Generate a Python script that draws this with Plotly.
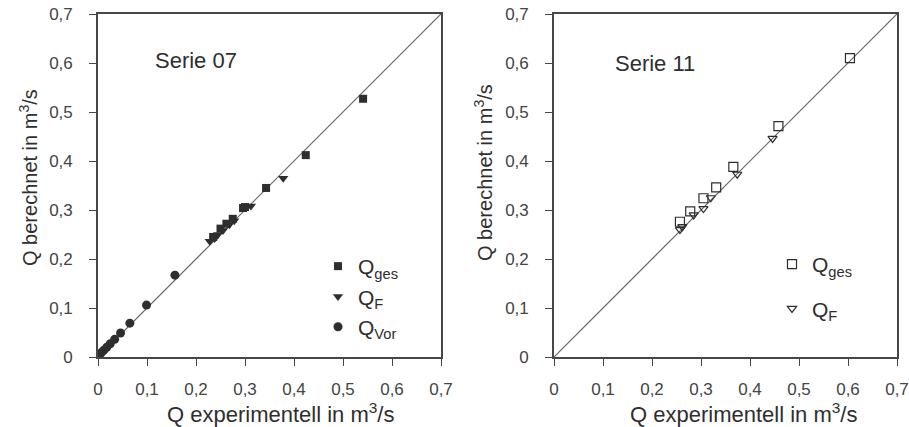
import plotly.graph_objects as go

W, H = 909, 427

# ---- data: Serie 07 ----
s07_ges_x = [0.541, 0.424, 0.343, 0.300, 0.296, 0.275, 0.262, 0.250, 0.235]
s07_ges_y = [0.527, 0.412, 0.345, 0.306, 0.304, 0.282, 0.272, 0.262, 0.245]
s07_f_x = [0.378, 0.312, 0.278, 0.268, 0.255, 0.245, 0.238, 0.228]
s07_f_y = [0.365, 0.308, 0.278, 0.270, 0.258, 0.250, 0.242, 0.236]
s07_vor_x = [0.157, 0.099, 0.065, 0.046, 0.034, 0.025, 0.018, 0.012, 0.007, 0.003]
s07_vor_y = [0.167, 0.106, 0.069, 0.049, 0.036, 0.027, 0.020, 0.014, 0.009, 0.004]

# ---- data: Serie 11 ----
s11_ges_x = [0.604, 0.458, 0.366, 0.331, 0.305, 0.278, 0.257]
s11_ges_y = [0.610, 0.471, 0.388, 0.346, 0.324, 0.297, 0.276]
s11_f_x = [0.446, 0.374, 0.320, 0.305, 0.285, 0.262, 0.257]
s11_f_y = [0.446, 0.373, 0.325, 0.303, 0.290, 0.266, 0.260]

diag = [0, 0.7]
tick_vals = [0, 0.1, 0.2, 0.3, 0.4, 0.5, 0.6, 0.7]
tick_text = ["0", "0,1", "0,2", "0,3", "0,4", "0,5", "0,6", "0,7"]

FONT = "Liberation Sans, Arial, Helvetica, sans-serif"
INK = "#2e2e2e"
LINE = "#666666"
AX = "#474747"

fig = go.Figure()

# diagonals
fig.add_trace(go.Scatter(x=diag, y=diag, mode="lines", line=dict(color=LINE, width=1.2),
                         showlegend=False, hoverinfo="skip", xaxis="x", yaxis="y"))
fig.add_trace(go.Scatter(x=diag, y=diag, mode="lines", line=dict(color=LINE, width=1.2),
                         showlegend=False, hoverinfo="skip", xaxis="x2", yaxis="y2"))

# Serie 07
fig.add_trace(go.Scatter(x=s07_ges_x, y=s07_ges_y, mode="markers", name="Q<sub>ges</sub>",
                         marker=dict(symbol="square", size=8, color=INK),
                         xaxis="x", yaxis="y", legend="legend", legendgroup="a"))
fig.add_trace(go.Scatter(x=s07_f_x, y=s07_f_y, mode="markers", name="Q<sub>F</sub>",
                         marker=dict(symbol="triangle-down", size=9, color=INK),
                         xaxis="x", yaxis="y", legend="legend", legendgroup="b"))
fig.add_trace(go.Scatter(x=s07_vor_x, y=s07_vor_y, mode="markers", name="Q<sub>Vor</sub>",
                         marker=dict(symbol="circle", size=9, color=INK),
                         xaxis="x", yaxis="y", legend="legend", legendgroup="c"))

# Serie 11
fig.add_trace(go.Scatter(x=s11_ges_x, y=s11_ges_y, mode="markers", name="Q<sub>ges</sub>",
                         marker=dict(symbol="square-open", size=9, color=INK, line=dict(width=1.2)),
                         xaxis="x2", yaxis="y2", legend="legend2", legendgroup="d"))
fig.add_trace(go.Scatter(x=s11_f_x, y=s11_f_y, mode="markers", name="Q<sub>F</sub>",
                         marker=dict(symbol="triangle-down-open", size=8, color=INK, line=dict(width=1.2)),
                         xaxis="x2", yaxis="y2", legend="legend2", legendgroup="e"))


def px_x(p):
    return p / W


def px_y(p):
    return 1 - p / H


axis_common = dict(range=[0, 0.7], tickvals=tick_vals, ticktext=tick_text,
                   showgrid=False, zeroline=False, showline=True, linecolor=AX,
                   linewidth=1.6, mirror=True, ticks="outside", ticklen=7,
                   tickcolor=AX, tickwidth=1.4, automargin=False,
                   tickfont=dict(size=17, color="#444444", family=FONT))

fig.update_layout(
    width=W, height=H,
    margin=dict(l=0, r=0, t=0, b=0),
    paper_bgcolor="white", plot_bgcolor="white",
    font=dict(family=FONT, color=INK),
    xaxis=dict(domain=[px_x(98), px_x(441)], anchor="y", ticklabelstandoff=9, **axis_common),
    yaxis=dict(domain=[px_y(357), px_y(14)], anchor="x", ticklabelstandoff=13, **axis_common),
    xaxis2=dict(domain=[px_x(554), px_x(897)], anchor="y2", ticklabelstandoff=9, **axis_common),
    yaxis2=dict(domain=[px_y(357), px_y(14)], anchor="x2", ticklabelstandoff=13, **axis_common),
    legend=dict(x=px_x(318), y=px_y(246), xanchor="left", yanchor="top",
                bgcolor="rgba(0,0,0,0)", font=dict(size=21, color=INK, family=FONT),
                tracegroupgap=0, itemwidth=30),
    legend2=dict(x=px_x(772), y=px_y(244), xanchor="left", yanchor="top",
                 bgcolor="rgba(0,0,0,0)", font=dict(size=21, color=INK, family=FONT),
                 tracegroupgap=14, itemwidth=30),
    annotations=[
        dict(text="Serie 07", x=0.112, y=0.606, xref="x", yref="y", showarrow=False,
             xanchor="left", yanchor="middle", font=dict(size=22, color=INK, family=FONT)),
        dict(text="Serie 11", x=0.12, y=0.600, xref="x2", yref="y2", showarrow=False,
             xanchor="left", yanchor="middle", font=dict(size=22, color=INK, family=FONT)),
        # axis titles
        dict(text="Q experimentell in m<sup>3</sup>/s", x=px_x(280), y=px_y(413), xref="paper", yref="paper",
             showarrow=False, xanchor="center", yanchor="middle", font=dict(size=22, color=INK, family=FONT)),
        dict(text="Q experimentell in m<sup>3</sup>/s", x=px_x(743), y=px_y(413), xref="paper", yref="paper",
             showarrow=False, xanchor="center", yanchor="middle", font=dict(size=22, color=INK, family=FONT)),
        dict(text="Q berechnet in m<sup>3</sup>/s", x=px_x(28), y=px_y(178), xref="paper", yref="paper",
             showarrow=False, xanchor="center", yanchor="middle", textangle=-90,
             font=dict(size=20, color=INK, family=FONT)),
        dict(text="Q berechnet in m<sup>3</sup>/s", x=px_x(483), y=px_y(173), xref="paper", yref="paper",
             showarrow=False, xanchor="center", yanchor="middle", textangle=-90,
             font=dict(size=20, color=INK, family=FONT)),
    ],
)

fig.write_html("out.html")
